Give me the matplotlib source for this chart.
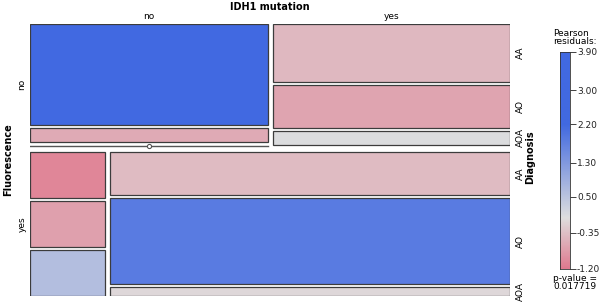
import matplotlib
matplotlib.use("Agg")
import matplotlib.pyplot as plt
import matplotlib.patches as patches
from matplotlib.colors import LinearSegmentedColormap, Normalize
import numpy as np

# ---------------------------
# DATA (Fluorescence x IDH1 mutation x Diagnosis)
# ---------------------------
fluorescence = ["no", "yes"]
idh1 = ["no", "yes"]
diagnosis = ["AA", "AO", "AOA"]

# counts[fluorescence][idh1] -> per diagnosis
counts_fl_no = [[14, 2, 0], [8, 6, 2]]
counts_fl_yes = [[2, 2, 2], [10, 20, 2]]

# Pearson residuals
resid_fl_no = [[3.90, -0.62, -0.90], [-0.46, -0.70, 0.05]]
resid_fl_yes = [[-1.05, -0.74, 0.60], [-0.41, 1.85, -0.08]]

legend_ticks = [3.90, 3.00, 2.20, 1.30, 0.50, -0.35, -1.20]
p_value = "0.017719"

counts = np.array([counts_fl_no, counts_fl_yes], dtype=float)
resid = np.array([resid_fl_no, resid_fl_yes])

rmin, rmax = -1.20, 3.90
anchors = [(-1.20, "#e07a8f"), (0.0, "#dedede"), (2.2, "#4169e1"), (3.90, "#4169e1")]
cmap = LinearSegmentedColormap.from_list(
    "res", [((v - rmin) / (rmax - rmin), c) for v, c in anchors])
norm = Normalize(rmin, rmax)

fig = plt.figure(figsize=(6, 3.05), dpi=100)

# mosaic area in pixel-like units
W, H = 480, 272
ax = fig.add_axes([30 / 600, (305 - 296) / 305, W / 600, H / 305])
ax.set_xlim(0, W)
ax.set_ylim(H, 0)
ax.axis("off")

gap1, gap2, gap3 = 7, 5, 3
edge = "#3c3c3c"

row_tot = counts.sum(axis=(1, 2))
avail_h = H - gap1 * (len(fluorescence) - 1)
y0 = 0
for i in range(len(fluorescence)):
    rh = avail_h * row_tot[i] / row_tot.sum()
    col_tot = counts[i].sum(axis=1)
    avail_w = W - gap2 * (len(idh1) - 1)
    x0 = 0
    for j in range(len(idh1)):
        cw = avail_w * col_tot[j] / col_tot.sum()
        avail_c = rh - gap3 * (len(diagnosis) - 1)
        yy = y0
        for k in range(len(diagnosis)):
            n = counts[i, j, k]
            ch = avail_c * n / col_tot[j]
            if n > 0:
                ax.add_patch(patches.Rectangle(
                    (x0, yy), cw, ch, facecolor=cmap(norm(resid[i, j, k])),
                    edgecolor=edge, lw=0.9))
            else:
                # empty cell: line with a small circle
                ax.plot([x0, x0 + cw], [yy + 0.5, yy + 0.5], color="#555555", lw=1.0)
                ax.plot(x0 + cw / 2, yy + 0.5, marker="o", ms=3, mfc="white",
                        mec="#555555", mew=0.8)
            yy += ch + gap3
        if i == 0:
            ax.text(x0 + cw / 2, -3, idh1[j], ha="center", va="bottom", fontsize=6.5)
        x0 += cw + gap2
    # right-side diagnosis labels (last column)
    j = len(idh1) - 1
    avail_c = rh - gap3 * (len(diagnosis) - 1)
    yy = y0
    for k in range(len(diagnosis)):
        ch = avail_c * counts[i, j, k] / counts[i, j].sum()
        ax.text(W + 10, yy + ch / 2, diagnosis[k], ha="center", va="center",
                rotation=90, fontsize=6.5)
        yy += ch + gap3
    ax.text(-8, y0 + rh / 2, fluorescence[i], ha="center", va="center",
            rotation=90, fontsize=6.5)
    y0 += rh + gap1

ax.text(W / 2, -12, "IDH1 mutation", ha="center", va="bottom",
        fontsize=7, fontweight="bold")
ax.text(-22, H / 2, "Fluorescence", ha="center", va="center", rotation=90,
        fontsize=7, fontweight="bold")
ax.text(W + 20, H / 2 - 3, "Diagnosis", ha="center", va="center", rotation=90,
        fontsize=7, fontweight="bold")

# ---------------------------
# LEGEND
# ---------------------------
cax = fig.add_axes([560 / 600, (305 - 269) / 305, 10 / 600, 217 / 305])
grad = np.linspace(rmax, rmin, 300).reshape(-1, 1)
cax.imshow(grad, aspect="auto", cmap=cmap, norm=norm,
           extent=[0, 1, rmin, rmax], origin="upper")
cax.set_xlim(0, 1)
cax.set_ylim(rmin, rmax)
cax.set_xticks([])
cax.yaxis.tick_right()
cax.set_yticks(legend_ticks)
cax.set_yticklabels([f"{t:.2f}" for t in legend_ticks])
cax.tick_params(axis="y", labelsize=6.5, length=4, width=0.6, pad=1, colors="#222222")
for s in cax.spines.values():
    s.set_linewidth(0.6)
    s.set_color("#333333")

fig.text(553 / 600, 1 - 29 / 305, "Pearson\nresiduals:", ha="left", va="top",
         fontsize=6.5, linespacing=0.9)
fig.text(553 / 600, 1 - 274 / 305, "p-value =\n" + p_value, ha="left", va="top",
         fontsize=6.5, linespacing=0.85)

plt.savefig("out.png", dpi=100)
